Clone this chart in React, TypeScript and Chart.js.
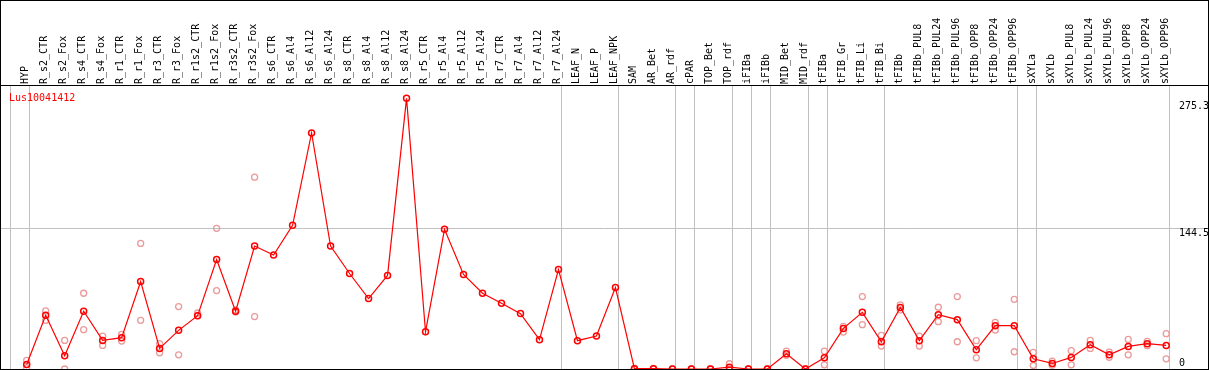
import React, { useEffect, useRef } from 'react';
import { Chart, registerables } from 'chart.js';

Chart.register(...registerables);

const geneName = 'Lus10041412';

const categories = [
  'HYP',
  'R_s2_CTR', 'R_s2_Fox', 'R_s4_CTR', 'R_s4_Fox', 'R_r1_CTR', 'R_r1_Fox', 'R_r3_CTR', 'R_r3_Fox',
  'R_r1s2_CTR', 'R_r1s2_Fox', 'R_r3s2_CTR', 'R_r3s2_Fox',
  'R_s6_CTR', 'R_s6_Al4', 'R_s6_Al12', 'R_s6_Al24',
  'R_s8_CTR', 'R_s8_Al4', 'R_s8_Al12', 'R_s8_Al24',
  'R_r5_CTR', 'R_r5_Al4', 'R_r5_Al12', 'R_r5_Al24',
  'R_r7_CTR', 'R_r7_Al4', 'R_r7_Al12', 'R_r7_Al24',
  'LEAF_N', 'LEAF_P', 'LEAF_NPK',
  'SAM', 'AR_Bet', 'AR_rdf', 'cPAR', 'TOP_Bet', 'TOP_rdf', 'iFIBa', 'iFIBb', 'MID_Bet', 'MID_rdf',
  'tFIBa', 'tFIB_Gr', 'tFIB_Li', 'tFIB_Bi',
  'tFIBb', 'tFIBb_PUL8', 'tFIBb_PUL24', 'tFIBb_PUL96', 'tFIBb_OPP8', 'tFIBb_OPP24', 'tFIBb_OPP96',
  'sXYLa',
  'sXYLb', 'sXYLb_PUL8', 'sXYLb_PUL24', 'sXYLb_PUL96', 'sXYLb_OPP8', 'sXYLb_OPP24', 'sXYLb_OPP96',
];

const meanValues = [
  4.6,
  55.1, 13.6, 59.3, 29.4, 32.2, 89.9, 21.1, 39.7,
  54.8, 112.5, 59.3, 126.3,
  117.0, 147.6, 242.4, 126.3,
  98.1, 72.4, 96.1, 278.0,
  38.3, 143.5, 97.1, 77.8,
  67.5, 56.9, 30.1, 102.2,
  29.1, 33.8, 83.7,
  0.3, 0.3, 0, 0, 0, 1.9, 0, 0, 15.6, 0,
  11.5, 41.7, 58.2, 28.0,
  63.1, 29.1, 55.8, 50.7, 19.8, 44.5, 44.5,
  10.5,
  5.7, 11.9, 24.9, 14.6, 23.2, 26.0, 24.2,
];

const replicateA = [
  8.8,
  59.6, 29.4, 77.8, 33.8, 35.6, 129.0, 26.0, 64.1,
  57.5, 144.5, 60.5, 197.0,
  null, null, null, null,
  null, null, null, null,
  null, null, null, null,
  null, null, null, null,
  null, null, null,
  0.6, 0.6, 0, 0, 0, 5.4, 0, 0, 18.4, 0,
  18.4, 43.8, 74.4, 34.5,
  65.8, 33.8, 63.4, 74.4, 29.1, 47.9, 71.6,
  17.0,
  8.0, 18.8, 29.4, 17.3, 30.4, 28.3, 36.3,
];

const replicateB = [
  1.2,
  50.0, 0, 40.4, 24.2, 28.7, 50.0, 16.7, 14.6,
  54.8, 80.6, 58.5, 53.8,
  null, null, null, null,
  null, null, null, null,
  null, null, null, null,
  null, null, null, null,
  null, null, null,
  0, 0, 0, 0, 0, 0, 0, 0, 14.0, 0,
  4.3, 37.9, 45.5, 23.5,
  60.5, 23.5, 48.6, 28.0, 11.5, 40.0, 17.7,
  3.6,
  3.9, 4.3, 21.1, 12.0, 14.6, 24.0, 10.5,
];

const yTickValues = [0, 144.5, 275.3];
const yTickLabels = ['0', '144.5', '275.3'];
const yGridValues = [144.5];
const yMax = 291.7;

// index of the last category in each group (-1 = start of the first group)
const groupEnds = [-1, 0, 28, 31, 34, 35, 37, 38, 39, 41, 42, 45, 52, 53, 60];

const FONT = '"DejaVu Sans Mono", monospace';

export default function App() {
  const ref = useRef<HTMLCanvasElement>(null);

  useEffect(() => {
    document.body.style.margin = '0';
    const canvas = ref.current;
    if (!canvas) return;

    const xMin = -1.353;
    const xMax = 62.2;
    const lineOff = 0.17;

    const titlePlugin = {
      id: 'geneTitle',
      afterDraw(chart: any) {
        const { ctx, chartArea } = chart;
        ctx.save();
        ctx.font = `10px ${FONT}`;
        ctx.fillStyle = '#ff0000';
        ctx.textAlign = 'left';
        ctx.textBaseline = 'alphabetic';
        ctx.fillText(geneName, chartArea.left + 8, chartArea.top + 16);
        ctx.restore();
      },
    };

    const pts = (arr: (number | null)[]) => arr.map((v, i) => ({ x: i, y: v }));

    const chart = new Chart(canvas, {
      type: 'line',
      data: {
        datasets: [
          {
            data: pts(meanValues),
            borderColor: '#ff0000',
            borderWidth: 1.2,
            pointRadius: 3,
            pointBorderWidth: 1.5,
            pointBorderColor: '#ff0000',
            pointBackgroundColor: 'rgba(0,0,0,0)',
            tension: 0,
          },
          {
            data: pts(replicateA),
            showLine: false,
            pointRadius: 3,
            pointBorderWidth: 1.3,
            pointBorderColor: '#eb9a9a',
            pointBackgroundColor: 'rgba(0,0,0,0)',
          },
          {
            data: pts(replicateB),
            showLine: false,
            pointRadius: 3,
            pointBorderWidth: 1.3,
            pointBorderColor: '#eb9a9a',
            pointBackgroundColor: 'rgba(0,0,0,0)',
          },
        ],
      },
      options: {
        responsive: false,
        animation: false,
        layout: { padding: 0, autoPadding: false },
        plugins: { legend: { display: false }, tooltip: { enabled: false } },
        scales: {
          x: {
            type: 'linear',
            position: 'top',
            min: xMin,
            max: xMax,
            afterBuildTicks: (s: any) => {
              s.ticks = categories.map((_, i) => ({ value: i }));
            },
            afterFit: (s: any) => {
              s.height = 84;
              s.paddingLeft = 0;
              s.paddingRight = 0;
            },
            grid: { display: false, drawTicks: false },
            border: { display: true, color: '#000000', width: 1 },
            ticks: {
              autoSkip: false,
              maxRotation: 90,
              minRotation: 90,
              padding: 1,
              labelOffset: 11,
              color: '#000000',
              font: { family: FONT, size: 10 },
              callback: (v: any) => categories[v] ?? '',
            },
          },
          xGroups: {
            type: 'linear',
            position: 'bottom',
            min: xMin,
            max: xMax,
            afterBuildTicks: (s: any) => {
              s.ticks = groupEnds.map((e) => ({ value: e + lineOff }));
            },
            afterFit: (s: any) => {
              s.height = 0;
              s.paddingLeft = 0;
              s.paddingRight = 0;
            },
            grid: { color: '#c0c0c0', lineWidth: 1, drawTicks: false },
            border: { display: false },
            ticks: { display: false },
          },
          y: {
            type: 'linear',
            position: 'right',
            min: 0,
            max: yMax,
            afterBuildTicks: (s: any) => {
              s.ticks = yTickValues.map((v) => ({ value: v }));
            },
            afterFit: (s: any) => {
              s.width = 0;
              s.paddingTop = 0;
              s.paddingBottom = 0;
            },
            grid: {
              color: (c: any) =>
                c.tick && yGridValues.includes(c.tick.value) ? '#c0c0c0' : 'rgba(0,0,0,0)',
              lineWidth: 1,
              drawTicks: false,
            },
            border: { display: false },
            ticks: {
              mirror: true,
              crossAlign: 'far',
              padding: 1,
              color: '#000000',
              font: { family: FONT, size: 10, lineHeight: 1.1 },
              callback: (v: any) => {
                const idx = yTickValues.indexOf(v);
                const label = idx >= 0 ? yTickLabels[idx] : '';
                return v === 0 ? [label, ''] : ['', label];
              },
            },
          },
        },
      },
      plugins: [titlePlugin],
    } as any);

    return () => chart.destroy();
  }, []);

  return (
    <div
      style={{
        position: 'absolute',
        left: 0,
        top: 0,
        width: 1209,
        height: 370,
        boxSizing: 'border-box',
        border: '1px solid #000',
        background: '#fff',
      }}
    >
      <canvas ref={ref} width={1207} height={368} style={{ display: 'block' }} />
    </div>
  );
}
